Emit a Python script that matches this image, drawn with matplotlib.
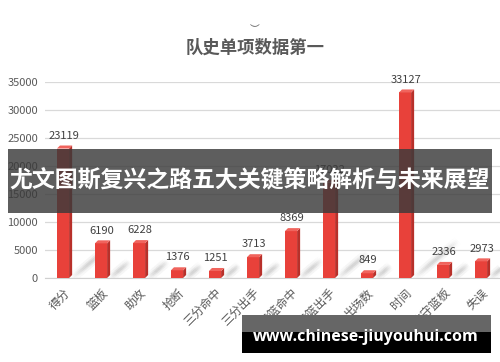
import matplotlib.pyplot as plt
from matplotlib.patches import Polygon, Rectangle
from matplotlib.collections import LineCollection
import numpy as np

plt.rcParams['font.family'] = ['Noto Sans CJK SC', 'DejaVu Sans']

categories = ['得分', '篮板', '助攻', '抢断', '三分命中', '三分出手', '投篮命中',
              '投篮出手', '出场数', '时间', '防守篮板', '失误']
values = [23119, 6190, 6228, 1376, 1251, 3713, 8369, 17022, 849, 33127, 2336, 2973]
yticks = [0, 5000, 10000, 15000, 20000, 25000, 30000, 35000]

title = '队史单项数据第一'
banner = '尤文图斯复兴之路五大关键策略解析与未来展望'
watermark = 'www.chinese-jiuyouhui.com'

fig = plt.figure(figsize=(5, 3.62), dpi=100)
ax = fig.add_axes([0.09, 0.232, 0.91, 0.5415])

x = np.arange(len(categories))
w = 0.32
dx = 0.08      # depth of the side face in data units
dy = 540       # depth of the top face in data units

# soft reflection streaks behind the bars
px_x = 1 / 38.0
px_y = 35000 / 196.0
for lw, a in [(7, 0.06), (4, 0.10), (2, 0.12)]:
    segs, cols = [], []
    for xi, v in zip(x, values):
        length = 14 + min(v, 33000) / 1100.0
        x0 = xi + w / 2 + 3 * px_x
        n = 30
        for k in range(n):
            t0, t1 = k / n, (k + 1) / n
            segs.append([(x0 + t0 * length * px_x, t0 * length * 0.85 * px_y),
                         (x0 + t1 * length * px_x, t1 * length * 0.85 * px_y)])
            cols.append((0.4, 0.4, 0.4, a * np.sin(np.pi * (t0 + t1) / 2)))
    ax.add_collection(LineCollection(segs, colors=cols, linewidths=lw, zorder=2,
                                     capstyle='butt'))

ax.bar(x, values, width=w, color='#E8413A', zorder=3)
for xi, v in zip(x, values):
    right = xi + w / 2
    left = xi - w / 2
    side = Polygon([(right, 0), (right + dx, dy), (right + dx, v + dy), (right, v)],
                   closed=True, facecolor='#B8302A', edgecolor='none', zorder=3)
    top = Polygon([(left, v), (right, v), (right + dx, v + dy), (left + dx, v + dy)],
                  closed=True, facecolor='#F0645D', edgecolor='none', zorder=3)
    ax.add_patch(side)
    ax.add_patch(top)
    ax.text(xi + 0.02, v + 1400, str(v), ha='center', va='bottom',
            fontsize=8, color='#404040', zorder=4)

ax.set_xlim(-0.474, 11.5)
ax.set_ylim(0, 35000)
ax.set_yticks(yticks)
ax.set_yticklabels([str(t) for t in yticks], fontsize=8, color='#595959')
ax.set_xticks(x)
ax.set_xticklabels(categories, rotation=45, ha='right', rotation_mode='anchor',
                   fontsize=8.5, color='#595959')
ax.tick_params(axis='both', length=0)
ax.tick_params(axis='x', pad=6)
ax.tick_params(axis='y', pad=5)
ax.grid(axis='y', color='#D9D9D9', linewidth=0.9, zorder=0)
for s in ['top', 'right', 'left']:
    ax.spines[s].set_visible(False)
ax.spines['bottom'].set_color('#D0D0D0')

fig.text(0.51, 0.868, title, ha='center', va='center', fontsize=12.5,
         fontweight='bold', color='#595959')
fig.text(0.51, 0.92, '︶', ha='center', va='center', fontsize=7, color='#595959')

# dark banner across the middle
fig.patches.append(Rectangle((0.016, 1 - 213 / 362), 0.968, 64 / 362,
                             transform=fig.transFigure, facecolor='#3A3A3A',
                             alpha=0.82, zorder=10))
fig.text(0.5, 1 - 181 / 362, banner, ha='center', va='center', fontsize=16.5,
         fontweight='bold', color='white', zorder=11)

# watermark box
fig.patches.append(Rectangle((242 / 500, 1 - 332 / 362), 249 / 500, 17 / 362,
                             transform=fig.transFigure, facecolor='#666666',
                             zorder=10))
fig.patches.append(Rectangle((242 / 500, 1 - 353 / 362), 249 / 500, 21 / 362,
                             transform=fig.transFigure, facecolor='black',
                             zorder=10))
fig.text(366 / 500, 1 - 337 / 362, watermark, ha='center', va='center',
         fontsize=11.5, fontweight='bold', color='white', family='Open Sans',
         zorder=11)

fig.savefig('out.png', dpi=100)
